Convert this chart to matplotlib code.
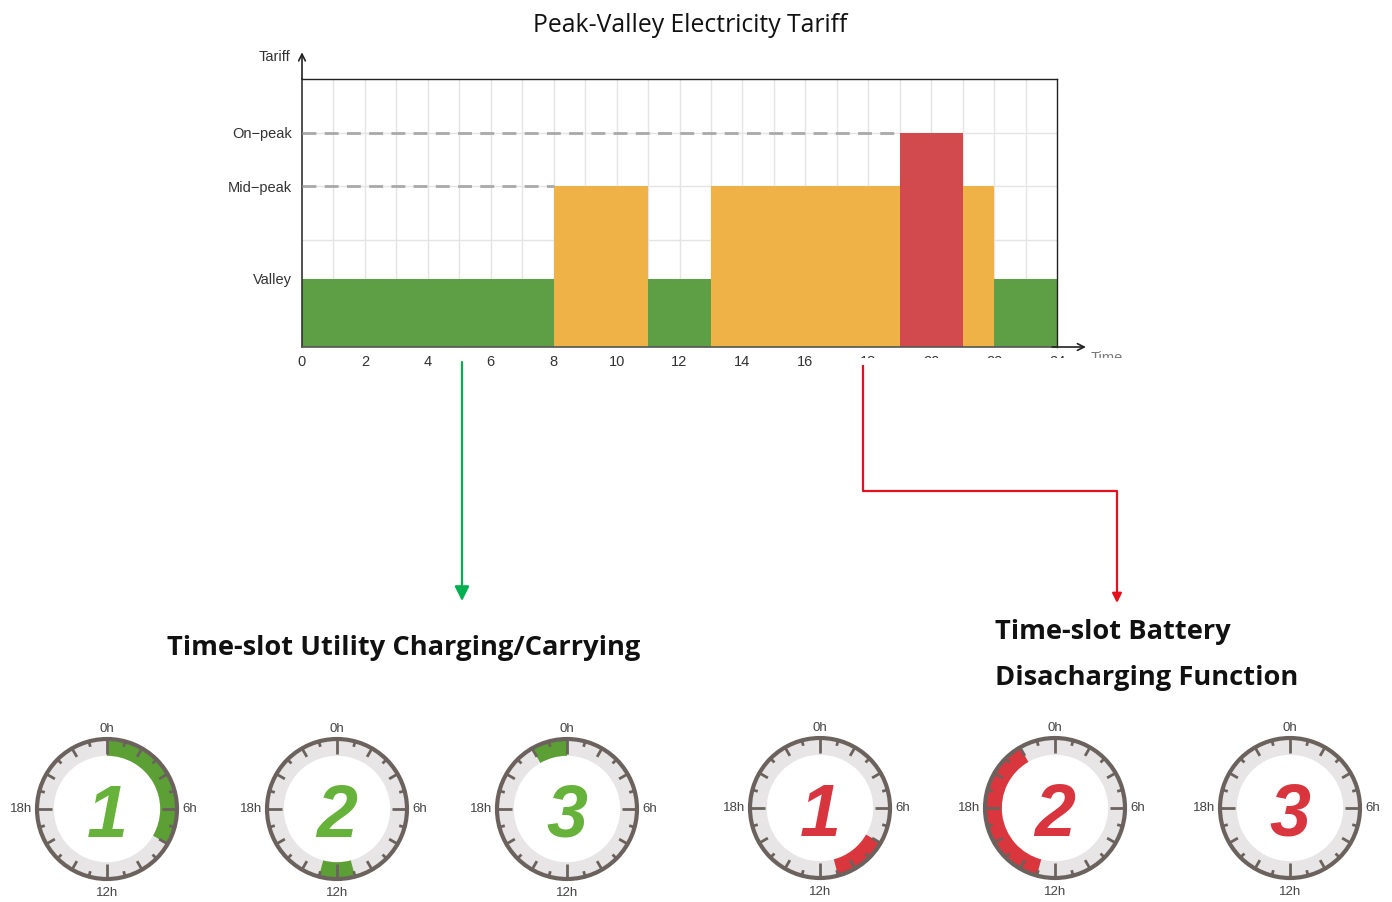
import matplotlib
matplotlib.use("Agg")
import matplotlib.pyplot as plt
import numpy as np
from matplotlib.patches import Wedge, Circle, Rectangle

# Tariff periods over one day (hour boundaries) and their price level
slot_start = [0, 8, 11, 13, 19, 21, 22]
slot_end = [8, 11, 13, 19, 21, 22, 24]
slot_level = ['valley', 'mid', 'valley', 'mid', 'on', 'mid', 'valley']

level_value = {'valley': 1.27, 'mid': 3, 'on': 4}
level_label = {'valley': 'Valley', 'mid': 'Mid\u2212peak', 'on': 'On\u2212peak'}
level_color = {'valley': '#5e9e45', 'mid': '#eeb246', 'on': '#d24a4e'}

x_ticks = list(range(0, 25, 2))

# Clock dials: hours covered in each time slot
charge_slots = [[(0, 8)], [(11, 13)], [(22, 24)]]
discharge_slots = [[(8, 11)], [(13, 22)], []]
slot_numbers = ['1', '2', '3']

W, H = 1392, 902
fig = plt.figure(figsize=(W / 100, H / 100), dpi=100)
plt.rcParams['font.family'] = ['Liberation Sans', 'DejaVu Sans']
HEAD_FONT = ['Open Sans', 'DejaVu Sans']


def px_box(x0, y0, x1, y1):
    # pixel box (top-left origin) -> figure fraction rect
    return [x0 / W, 1 - y1 / H, (x1 - x0) / W, (y1 - y0) / H]


# ---- tariff chart ----
ax = fig.add_axes(px_box(302, 79, 1057, 347))
ax.set_xlim(0, 24)
ax.set_ylim(0, 5)

for h in range(1, 24):
    ax.axvline(h, color='#e4e4e4', lw=1, zorder=0)
for yv in range(1, 5):
    ax.axhline(yv, color='#e4e4e4', lw=1, zorder=0)

heights = [level_value[l] for l in slot_level]
widths = [e - s for s, e in zip(slot_start, slot_end)]
colors = [level_color[l] for l in slot_level]
ax.bar(slot_start, heights, width=widths, align='edge', color=colors,
       edgecolor='none', zorder=2)

# dashed reference lines run up to the first bar of that level
for lev in ['on', 'mid']:
    first = slot_start[slot_level.index(lev)]
    ax.plot([0, first], [level_value[lev]] * 2, color='#a9a9a9', lw=2,
            dashes=(5, 3), zorder=3)

ax.set_xticks(x_ticks)
ax.set_xticklabels([str(t) for t in x_ticks], fontsize=10.5, color='#333333')
yl = ['valley', 'mid', 'on']
ax.set_yticks([level_value[l] for l in yl])
ax.set_yticklabels([level_label[l] for l in yl], fontsize=10.5, color='#333333')
ax.tick_params(axis='both', length=0)
ax.tick_params(axis='x', pad=6)
ax.tick_params(axis='y', pad=7)

for s in ['top', 'right']:
    ax.spines[s].set_color('#222222')
    ax.spines[s].set_linewidth(1)
ax.spines['left'].set_color('#333333')
ax.spines['bottom'].set_color('#555555')
ax.spines['left'].set_linewidth(1.2)
ax.spines['bottom'].set_linewidth(1.2)

# axis arrows
ax.annotate('', xy=(0, 1.11), xytext=(0, 0.99), xycoords='axes fraction',
            arrowprops=dict(arrowstyle='->', color='#222222', lw=1.2,
                            mutation_scale=12), annotation_clip=False)
ax.annotate('', xy=(1.042, 0), xytext=(0.99, 0), xycoords='axes fraction',
            arrowprops=dict(arrowstyle='->', color='#222222', lw=1.2,
                            mutation_scale=12), annotation_clip=False)
ax.text(-0.016, 1.083, 'Tariff', transform=ax.transAxes, ha='right',
        va='center', fontsize=10.5, color='#333333')
ax.text(1.045, -0.015, 'Time', transform=ax.transAxes, ha='left',
        va='top', fontsize=10.5, color='#777777')

fig.text(690 / W, 1 - 25 / H, 'Peak-Valley Electricity Tariff',
         ha='center', va='center', fontsize=17.8, family=HEAD_FONT,
         color='#111111')

# ---- overlay for connectors and headings ----
ov = fig.add_axes([0, 0, 1, 1], zorder=5)
ov.set_xlim(0, W)
ov.set_ylim(H, 0)
ov.axis('off')
ov.patch.set_alpha(0)

# white band over the right-hand tick labels
ov.add_patch(Rectangle((845, 357.5), 290, 16, facecolor='white',
                       edgecolor='none', zorder=1))

ov.annotate('', xy=(462, 601), xytext=(462, 362),
            arrowprops=dict(arrowstyle='-|>', color='#00b050', lw=1.6,
                            mutation_scale=22, shrinkA=0, shrinkB=0))
ov.plot([863, 863, 1117], [365, 491, 491], color='#e3101e', lw=1.6,
        solid_capstyle='butt', zorder=2)
ov.annotate('', xy=(1117, 603), xytext=(1117, 491),
            arrowprops=dict(arrowstyle='-|>', color='#e3101e', lw=1.6,
                            mutation_scale=14, shrinkA=0, shrinkB=0))

head = dict(ha='left', va='center', fontsize=19.6, fontweight='bold',
            family=HEAD_FONT, color='#111111')
ov.text(167, 648, 'Time-slot Utility Charging/Carrying', **head)
ov.text(995, 632, 'Time-slot Battery', **head)
ov.text(995, 678, 'Disacharging Function', **head)


# ---- clock dials ----
def draw_clock(cx, cy, slots, number, arc_color, num_color):
    r_px = 70
    lim = 1.35
    size = lim * r_px
    cax = fig.add_axes(px_box(cx - size, cy - size, cx + size, cy + size),
                       zorder=4)
    cax.set_xlim(-lim, lim)
    cax.set_ylim(-lim, lim)
    cax.set_aspect('equal')
    cax.axis('off')

    cax.add_patch(Wedge((0, 0), 1.0, 0, 360, width=0.24,
                        facecolor='#e7e5e5', edgecolor='none'))
    for a, b in slots:
        cax.add_patch(Wedge((0, 0), 0.98, 90 - 15 * b, 90 - 15 * a,
                            width=0.22, facecolor=arc_color,
                            edgecolor='none'))
    for h in range(24):
        if h % 6 == 0:
            ln = 0.21
        elif h % 2 == 0:
            ln = 0.14
        else:
            ln = 0.08
        th = np.deg2rad(90 - 15 * h)
        cax.plot([np.cos(th), (1 - ln) * np.cos(th)],
                 [np.sin(th), (1 - ln) * np.sin(th)],
                 color='#6b625d', lw=2, solid_capstyle='butt')
    cax.add_patch(Circle((0, 0), 1.0, facecolor='none', edgecolor='#6b625d',
                         lw=3))

    lab = dict(fontsize=9.5, color='#444444', va='center')
    cax.text(0, 1.14, '0h', ha='center', **lab)
    cax.text(1.08, 0, '6h', ha='left', **lab)
    cax.text(0, -1.2, '12h', ha='center', **lab)
    cax.text(-1.07, 0, '18h', ha='right', **lab)
    cax.text(0, -0.12, number, ha='center', va='center', fontsize=53,
             fontweight='bold', style='italic', color=num_color)


green_x = [107, 337, 567]
red_x = [820, 1055, 1290]
for i in range(3):
    draw_clock(green_x[i], 809, charge_slots[i], slot_numbers[i],
               '#5c9f35', '#66b23a')
    draw_clock(red_x[i], 808, discharge_slots[i], slot_numbers[i],
               '#d9363e', '#d8353e')

fig.savefig('out.png', dpi=100)
